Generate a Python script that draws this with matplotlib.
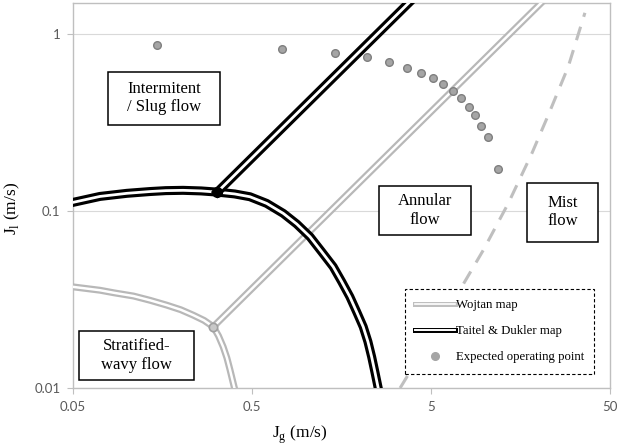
import matplotlib.pyplot as plt
import matplotlib.patheffects as pe
from matplotlib.lines import Line2D
from matplotlib.patches import Rectangle

# Wojtan map: stratified-wavy boundary and annular transition
wojtan_sw_x = [0.05, 0.0707, 0.085, 0.109, 0.135, 0.167, 0.2, 0.235, 0.27, 0.304,
               0.325, 0.345, 0.362, 0.377, 0.397, 0.405]
wojtan_sw_y = [0.0373, 0.0357, 0.0345, 0.0331, 0.0313, 0.0294, 0.0277, 0.0258, 0.0241, 0.0222,
               0.0197, 0.0171, 0.0148, 0.01264, 0.0102, 0.0094]
wojtan_ia_x = [0.304, 25.0]
wojtan_ia_y = [0.0222, 1.82]

# Taitel & Dukler map: stratified boundary and intermittent/annular transition
taitel_st_x = [0.05, 0.0707, 0.1, 0.135, 0.165, 0.206, 0.26, 0.32, 0.4, 0.487, 0.604, 0.748,
               0.889, 1.054, 1.225, 1.42, 1.585, 1.76, 1.92, 2.09, 2.22, 2.33, 2.43, 2.54, 2.6]
taitel_st_y = [0.112, 0.121, 0.126, 0.129, 0.1305, 0.131, 0.130, 0.128, 0.125, 0.1205, 0.1105, 0.097,
               0.0845, 0.0716, 0.0589, 0.0485, 0.0399, 0.0328, 0.027, 0.0222, 0.0183, 0.015, 0.0123,
               0.0099, 0.0092]
taitel_ia_x = [0.32, 4.5]
taitel_ia_y = [0.128, 1.8]

# Annular / mist boundary
mist_x = [3.36, 7.42, 9.8, 13.5, 18.3, 22.6, 29.2, 36.2]
mist_y = [0.010, 0.0373, 0.0602, 0.1105, 0.212, 0.349, 0.654, 1.32]

# Expected operating points
op_jg = [0.147, 0.733, 1.45, 2.19, 2.9, 3.66, 4.41, 5.15, 5.81, 6.61, 7.36, 8.15, 8.77, 9.55, 10.4, 11.8]
op_jl = [0.867, 0.82, 0.778, 0.739, 0.692, 0.645, 0.604, 0.564, 0.522, 0.477, 0.433, 0.39, 0.349, 0.303, 0.263, 0.1726]

xticks = [0.05, 0.5, 5, 50]
xtick_labels = ['0.05', '0.5', '5', '50']
yticks = [0.01, 0.1, 1]
ytick_labels = ['0.01', '0.1', '1']

regions = [
    ('Intermitent\n/ Slug flow', (0.0657, 0.683, 0.208, 0.139)),
    ('Annular\nflow', (0.570, 0.397, 0.171, 0.128)),
    ('Mist\nflow', (0.846, 0.380, 0.132, 0.153)),
    ('Stratified-\nwavy flow', (0.0112, 0.021, 0.215, 0.127)),
]

serif = 'Liberation Serif'
gray_line = '#B8B8B8'


def double_line(outer, inner, color):
    return [pe.Stroke(linewidth=outer, foreground=color),
            pe.Stroke(linewidth=inner, foreground='white')]


fig = plt.figure(figsize=(6.17, 4.48), dpi=100)
ax = fig.add_axes([0.1183, 0.1339, 0.8704, 0.8594])
ax.set_xscale('log')
ax.set_yscale('log')
ax.set_xlim(0.05, 50)
ax.set_ylim(0.01, 1.5)

ax.grid(True, axis='y', color='#D9D9D9', lw=0.8)
ax.set_axisbelow(True)
for s in ax.spines.values():
    s.set_color('#BFBFBF')
    s.set_linewidth(1.0)

ax.set_xticks(xticks)
ax.set_xticklabels(xtick_labels)
ax.set_yticks(yticks)
ax.set_yticklabels(ytick_labels)
ax.minorticks_off()
ax.tick_params(length=4, width=0.8, color='#BFBFBF', labelcolor='#595959',
               labelsize=9.5, pad=5)
for lbl in ax.get_xticklabels() + ax.get_yticklabels():
    lbl.set_family('Lato')

woj_fx = double_line(5.0, 1.8, gray_line)
tai_fx = double_line(6.5, 2.0, 'black')

ax.plot(wojtan_sw_x, wojtan_sw_y, path_effects=woj_fx, zorder=3)
ax.plot(wojtan_ia_x, wojtan_ia_y, path_effects=woj_fx, zorder=3)
ax.plot(wojtan_ia_x[:1], wojtan_ia_y[:1], 'o', ms=6, mfc='#C8C8C8', mec='#A0A0A0', mew=1.2, zorder=3)

ax.plot(taitel_st_x, taitel_st_y, path_effects=tai_fx, zorder=4)
ax.plot(taitel_ia_x, taitel_ia_y, path_effects=tai_fx, zorder=4)
ax.plot(taitel_ia_x[:1], taitel_ia_y[:1], 'o', ms=7, mfc='black', mec='black', zorder=4)

ax.plot(mist_x, mist_y, color='#BFBFBF', lw=2.2, dashes=(4.6, 3.4),
        dash_capstyle='butt', zorder=2)

ax.plot(op_jg, op_jl, 'o', ms=5.5, mfc='#A5A5A5', mec='#7F7F7F', mew=1.0, zorder=5)

# region labels
for txt, (x0, y0, w, h) in regions:
    ax.add_patch(Rectangle((x0, y0), w, h, transform=ax.transAxes,
                           facecolor='white', edgecolor='black', lw=1.1, zorder=6))
    ax.text(x0 + w / 2, y0 + h / 2, txt, transform=ax.transAxes, ha='center',
            va='center', family=serif, fontsize=12, linespacing=1.2, zorder=7)

handles = [
    Line2D([], [], path_effects=double_line(3.6, 1.2, '#BFBFBF')),
    Line2D([], [], path_effects=double_line(3.6, 1.4, 'black')),
    Line2D([], [], ls='none', marker='o', ms=5.5, mfc='#A5A5A5', mec='#A5A5A5'),
]
labels = ['Wojtan map', 'Taitel & Dukler map', 'Expected operating point']
leg = ax.legend(handles, labels, loc='upper left', bbox_to_anchor=(0.618, 0.257),
                borderaxespad=0, prop={'family': serif, 'size': 9.2},
                handlelength=3.1, handletextpad=0.1, labelspacing=1.1,
                borderpad=0.8, fancybox=False, framealpha=1, edgecolor='black')
leg.get_frame().set_linestyle((0, (3, 2)))
leg.get_frame().set_linewidth(0.8)
leg.set_zorder(8)

ax.set_xlabel(r'J$_\mathregular{g}$ (m/s)', family=serif, fontsize=12.5)
ax.set_ylabel(r'J$_\mathregular{l}$ (m/s)', family=serif, fontsize=12.5)
ax.xaxis.set_label_coords(0.4227, -0.093)
ax.yaxis.set_label_coords(-0.095, 0.4675)

fig.savefig('out.png', dpi=100)
